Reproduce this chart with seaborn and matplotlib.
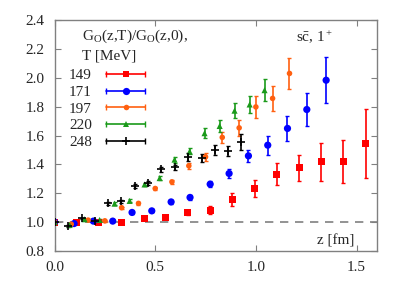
import numpy as np
import pandas as pd
import matplotlib
matplotlib.use("Agg")
import matplotlib.pyplot as plt
import seaborn as sns
from matplotlib.lines import Line2D
from matplotlib.legend_handler import HandlerLine2D, HandlerTuple

# ---------------- data ----------------
temps = ["149", "171", "197", "220", "248"]

z149 = [0.0, 0.11, 0.22, 0.334, 0.445, 0.552, 0.662, 0.773, 0.883, 0.994, 1.104, 1.215, 1.324, 1.435, 1.546]
g149 = [1.0, 1.0, 0.998, 1.0, 1.025, 1.035, 1.067, 1.083, 1.157, 1.233, 1.332, 1.376, 1.418, 1.418, 1.547]
e149 = [0.0, 0.005, 0.006, 0.008, 0.01, 0.012, 0.02, 0.03, 0.045, 0.057, 0.075, 0.09, 0.13, 0.15, 0.24]

z171 = [0.0, 0.097, 0.193, 0.289, 0.385, 0.483, 0.579, 0.673, 0.773, 0.867, 0.963, 1.059, 1.157, 1.253, 1.349]
g171 = [1.0, 0.99, 1.007, 1.007, 1.067, 1.078, 1.14, 1.171, 1.263, 1.337, 1.459, 1.533, 1.649, 1.78, 1.983]
e171 = [0.0, 0.004, 0.005, 0.006, 0.008, 0.01, 0.013, 0.018, 0.022, 0.028, 0.04, 0.067, 0.088, 0.115, 0.16]

z197 = [0.0, 0.083, 0.167, 0.25, 0.333, 0.417, 0.5, 0.583, 0.667, 0.75, 0.833, 0.917, 1.0, 1.083, 1.167]
g197 = [1.0, 0.986, 1.014, 1.009, 1.1, 1.13, 1.233, 1.279, 1.39, 1.452, 1.587, 1.653, 1.798, 1.857, 2.03]
e197 = [0.0, 0.004, 0.005, 0.006, 0.008, 0.01, 0.012, 0.015, 0.02, 0.03, 0.04, 0.055, 0.075, 0.087, 0.106]

z220 = [0.0, 0.075, 0.149, 0.224, 0.298, 0.373, 0.447, 0.522, 0.596, 0.671, 0.745, 0.82, 0.894, 0.969, 1.043]
g220 = [1.0, 0.98, 1.02, 1.015, 1.128, 1.147, 1.261, 1.305, 1.433, 1.49, 1.616, 1.666, 1.772, 1.815, 1.914]
e220 = [0.0, 0.004, 0.005, 0.006, 0.008, 0.01, 0.012, 0.015, 0.02, 0.02, 0.035, 0.04, 0.05, 0.062, 0.075]

z248 = [0.0, 0.069, 0.135, 0.199, 0.265, 0.331, 0.4, 0.464, 0.53, 0.596, 0.662, 0.731, 0.797, 0.863, 0.927]
g248 = [1.0, 0.972, 1.026, 1.007, 1.13, 1.145, 1.251, 1.272, 1.365, 1.379, 1.448, 1.445, 1.499, 1.494, 1.552]
e248 = [0.0, 0.005, 0.006, 0.007, 0.008, 0.01, 0.012, 0.015, 0.02, 0.02, 0.028, 0.03, 0.035, 0.035, 0.055]

xticks = [0.0, 0.5, 1.0, 1.5]
yticks = [0.8, 1.0, 1.2, 1.4, 1.6, 1.8, 2.0, 2.2, 2.4]

# ---------------- style ----------------
sns.set_style("ticks")
plt.rcParams["font.family"] = ["Liberation Serif", "DejaVu Serif"]
plt.rcParams["mathtext.fontset"] = "custom"
plt.rcParams["mathtext.rm"] = "Liberation Serif"
plt.rcParams["mathtext.it"] = "Liberation Serif:italic"
FS = 11

colors = ["#ff0000", "#0000ff", "#ff6010", "#1a9a1a", "#000000"]
markers = ["s", "o", "o", "^", "+"]
msizes = [5.0, 5.2, 4.0, 4.4, 5.5]

zs = [z149, z171, z197, z220, z248]
gs = [g149, g171, g197, g220, g248]
es = [e149, e171, e197, e220, e248]

frames = []
for t, z, g, e in zip(temps, zs, gs, es):
    frames.append(pd.DataFrame({"z": z, "G": g, "err": e, "T": t}))
df = pd.concat(frames, ignore_index=True)

fig = plt.figure(figsize=(4.07, 2.85), dpi=100)
ax = fig.add_axes([0.134, 0.1193, 0.7915, 0.8105])

ax.axhline(1.0, color="#808080", lw=1.2, ls=(0, (5, 4)), zorder=1)

handles = []
hmap = {}
for i, t in enumerate(temps):
    sub = df[df["T"] == t]
    ax.errorbar(sub["z"], sub["G"], yerr=sub["err"], fmt="none",
                ecolor=colors[i], elinewidth=1.2, capsize=1.6, capthick=1.0, zorder=2)
    sns.scatterplot(data=sub, x="z", y="G", ax=ax, color=colors[i],
                    marker=markers[i], s=msizes[i] ** 2,
                    linewidth=(1.2 if markers[i] == "+" else 0),
                    edgecolor=(colors[i] if markers[i] == "+" else "none"),
                    legend=False, zorder=3)
    hline = Line2D([], [], color=colors[i], lw=1.2, marker="|", markersize=4, markeredgewidth=1.0)
    hmark = Line2D([], [], color=colors[i], ls="none", marker=markers[i],
                   markersize=msizes[i], markeredgewidth=(1.2 if markers[i] == "+" else 0))
    hmap[hline] = HandlerLine2D(numpoints=2)
    hmap[hmark] = HandlerLine2D(numpoints=1)
    handles.append((hline, hmark))

hmap[tuple] = HandlerTuple(ndivide=1, pad=0)
leg = ax.legend(handles, temps, handler_map=hmap, loc="upper left",
                bbox_to_anchor=(0.045, 0.79), frameon=False, markerfirst=False,
                fontsize=FS, handlelength=3.2, handletextpad=0.6,
                labelspacing=0.2, borderaxespad=0, borderpad=0)

ax.text(0.085, 0.928, r"G$_\mathrm{O}$(z,T)/G$_\mathrm{O}$(z,0),", transform=ax.transAxes,
        fontsize=FS, ha="left", va="center")
ax.text(0.085, 0.845, "T [MeV]", transform=ax.transAxes, fontsize=FS, ha="left", va="center")
ax.text(0.865, 0.93, r"s$\bar{\mathrm{c}}$, 1$^+$", transform=ax.transAxes,
        fontsize=FS, ha="right", va="center")
ax.text(0.93, 0.045, "z [fm]", transform=ax.transAxes, fontsize=FS, ha="right", va="center")

ax.set_xlim(0.0, 1.6)
ax.set_ylim(0.8, 2.4)
ax.set_xticks(xticks)
ax.set_xticklabels([f"{v:.1f}" for v in xticks])
ax.set_yticks(yticks)
ax.set_yticklabels([f"{v:.1f}" for v in yticks])
ax.set_xlabel("")
ax.set_ylabel("")
ax.tick_params(direction="in", top=True, right=True, length=4, width=0.8,
               labelsize=FS, pad=7, color="#808080")
for sp in ax.spines.values():
    sp.set_color("#808080")
    sp.set_linewidth(1.0)

fig.savefig("out.png", dpi=100)
